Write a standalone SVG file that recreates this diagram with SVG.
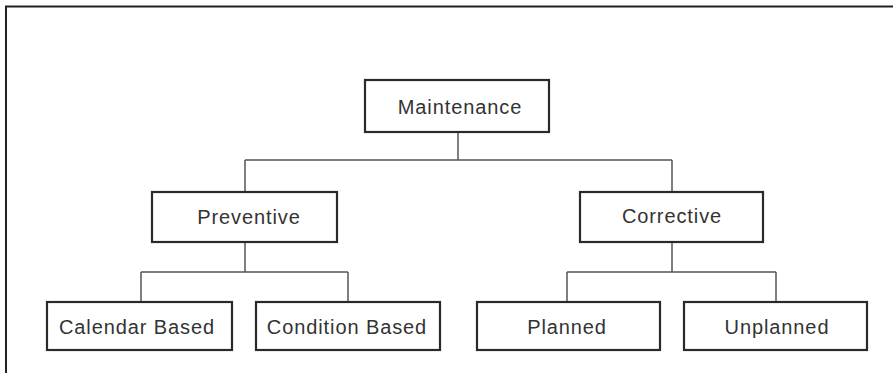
<svg xmlns="http://www.w3.org/2000/svg" width="893" height="373" viewBox="0 0 893 373">
<style>
.box{fill:#fff;stroke:#2a2a2a;stroke-width:2.2}
.lbl{font-family:"Liberation Sans",Arial,sans-serif;font-size:20px;letter-spacing:0.9px;fill:#333;text-anchor:middle;dominant-baseline:central}
.con{fill:none;stroke:#555;stroke-width:1.5}
.frame{fill:none;stroke:#222;stroke-width:2}
</style>
<rect width="893" height="373" fill="#fff"/>
<path class="frame" d="M6,373 V6.5 H893"/>
<g id="connectors">
<path class="con" d="M458,132 V160 M245,160 H672 M245,160 V192 M672,160 V192"/>
<path class="con" d="M245,242 V272 M141,272 H348 M141,272 V302 M348,272 V302"/>
<path class="con" d="M672,242 V272 M567,272 H776 M567,272 V302 M776,272 V302"/>
</g>
<g id="maintenance"><rect class="box" x="365" y="80" width="184" height="52"/><text class="lbl" x="460" y="107">Maintenance</text></g>
<g id="preventive"><rect class="box" x="152" y="192" width="185" height="50"/><text class="lbl" x="249" y="217">Preventive</text></g>
<g id="corrective"><rect class="box" x="580" y="192" width="183" height="50"/><text class="lbl" x="672" y="216">Corrective</text></g>
<g id="calendar"><rect class="box" x="47" y="302" width="185" height="48"/><text class="lbl" x="137" y="327">Calendar Based</text></g>
<g id="condition"><rect class="box" x="256" y="302" width="184" height="48"/><text class="lbl" x="347" y="327">Condition Based</text></g>
<g id="planned"><rect class="box" x="477" y="302" width="183" height="48"/><text class="lbl" x="567" y="327">Planned</text></g>
<g id="unplanned"><rect class="box" x="684" y="302" width="183" height="48"/><text class="lbl" x="777" y="327">Unplanned</text></g>
</svg>
